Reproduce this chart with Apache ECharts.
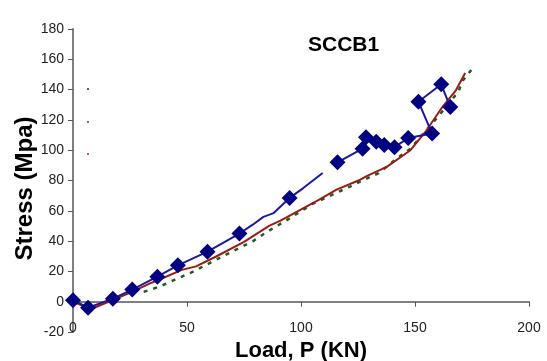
<!DOCTYPE html>
<html>
<head>
<meta charset="utf-8">
<script src="https://cdn.jsdelivr.net/npm/echarts@6/dist/echarts.min.js"></script>
<style>
html,body{margin:0;padding:0;background:#fff;}
#chart{width:547px;height:361px;}
</style>
</head>
<body>
<div id="chart"></div>
<script>
// ---- data ----
const chartTitle = 'SCCB1';
const xTicks = [0, 50, 100, 150, 200];
const yTicks = [-20, 0, 20, 40, 60, 80, 100, 120, 140, 160, 180];

// Measured (blue, diamond markers); null = gap in the line
const blueLoad   = [0, 6.6, 17.5, 26, 37, 46, 59, 73, 79, 83.5, 88, 95, 101, 109.5, 112, 116, 127, 128.5, 133, 136.5, 141, 147, 157.5, 151.5, 161.5, 165.5];
const blueStress = [1, -4, 2, 8, 16.5, 24, 33, 45, 51, 56, 58.5, 68.5, 75, 85, null, 92, 101, 108.5, 105.5, 103.5, 102, 108, 111, 132, 143.5, 128.5];
const blueMarked = [1, 1, 1, 1, 1, 1, 1, 1, 0, 0, 0, 1, 0, 0, 0, 1, 1, 1, 1, 1, 1, 1, 1, 1, 1, 1];

// Red curve
const redLoad   = [0, 8, 17.7, 26.4, 34, 37, 47.7, 54, 63, 75, 86, 91, 107.6, 115.6, 126, 129, 137.6, 148, 155, 162, 168, 172];
const redStress = [0, -4.8, 1.3, 6.8, 12.3, 14, 21, 23.3, 30, 39.5, 50, 53.5, 67, 74, 80.5, 83, 89, 100, 113, 128.5, 139.7, 151];

// Green dashed curve
const greenLoad   = [31, 38, 44.7, 52, 59.3, 65, 71, 79, 85, 95, 105, 121.5, 127, 134, 142, 148, 160, 169, 171, 175];
const greenStress = [6.5, 10, 14.5, 19.4, 25, 29.5, 34, 40, 46, 55, 64.5, 76, 80, 84.8, 94.5, 101, 122, 138.6, 146, 153.6];

// ---- chart ----
const FONT = '"Liberation Sans", Arial, sans-serif';
const blueData = blueLoad.map((x, i) => ({
  value: [x, blueStress[i]],
  symbol: blueMarked[i] ? 'diamond' : 'none'
}));
const pairs = (xs, ys) => xs.map((x, i) => [x, ys[i]]);

const chart = echarts.init(document.getElementById('chart'), null, {renderer: 'canvas'});
chart.setOption({
  animation: false,
  backgroundColor: '#ffffff',
  title: {
    text: chartTitle,
    left: 303, top: 30,
    textStyle: {fontFamily: FONT, fontWeight: 'bold', fontSize: 21, color: '#000'}
  },
  grid: {left: 73, right: 18, top: 29, bottom: 29, containLabel: false, outerBoundsMode: 'none'},
  xAxis: {
    type: 'value',
    min: xTicks[0], max: xTicks[xTicks.length - 1], interval: 50,
    name: 'Load, P (KN)', nameLocation: 'middle', nameGap: 5,
    nameTextStyle: {fontFamily: FONT, fontWeight: 'bold', fontSize: 22, color: '#000'},
    axisLine: {onZero: true, lineStyle: {color: '#808080', width: 2}},
    axisTick: {show: true, length: 5, lineStyle: {color: '#555', width: 1}},
    axisLabel: {margin: -11, fontFamily: FONT, fontSize: 14, color: '#222'},
    splitLine: {show: false}
  },
  yAxis: {
    type: 'value',
    min: yTicks[0], max: yTicks[yTicks.length - 1], interval: 20,
    name: 'Stress (Mpa)', nameLocation: 'middle', nameGap: 36, nameMoveOverlap: false,
    nameTextStyle: {fontFamily: FONT, fontWeight: 'bold', fontSize: 24, color: '#000', padding: [0, 16, 0, 0]},
    axisLine: {onZero: false, lineStyle: {color: '#808080', width: 2}},
    axisTick: {show: true, length: 5, lineStyle: {color: '#555', width: 1}},
    axisLabel: {margin: 9, fontFamily: FONT, fontSize: 14, color: '#222'},
    splitLine: {show: false}
  },
  series: [
    {
      name: 'green', type: 'line', data: pairs(greenLoad, greenStress),
      symbol: 'none', z: 2,
      lineStyle: {color: '#1d5e1d', width: 2.5, type: [4, 6]}
    },
    {
      name: 'red', type: 'line', data: pairs(redLoad, redStress),
      symbol: 'none', z: 3,
      lineStyle: {color: '#9b1b1b', width: 2}
    },
    {
      name: 'blue', type: 'line', data: blueData,
      symbol: 'diamond', symbolSize: 16, showAllSymbol: true, connectNulls: false, z: 4,
      itemStyle: {color: '#000080'},
      lineStyle: {color: '#1a1aa0', width: 2}
    }
  ],
  graphic: [
    {type: 'circle', shape: {cx: 88, cy: 89, r: 1}, style: {fill: '#1a1aa0'}},
    {type: 'circle', shape: {cx: 88, cy: 122, r: 1}, style: {fill: '#1d5e1d'}},
    {type: 'circle', shape: {cx: 88, cy: 154, r: 1}, style: {fill: '#9b1b1b'}}
  ]
});
</script>
</body>
</html>
